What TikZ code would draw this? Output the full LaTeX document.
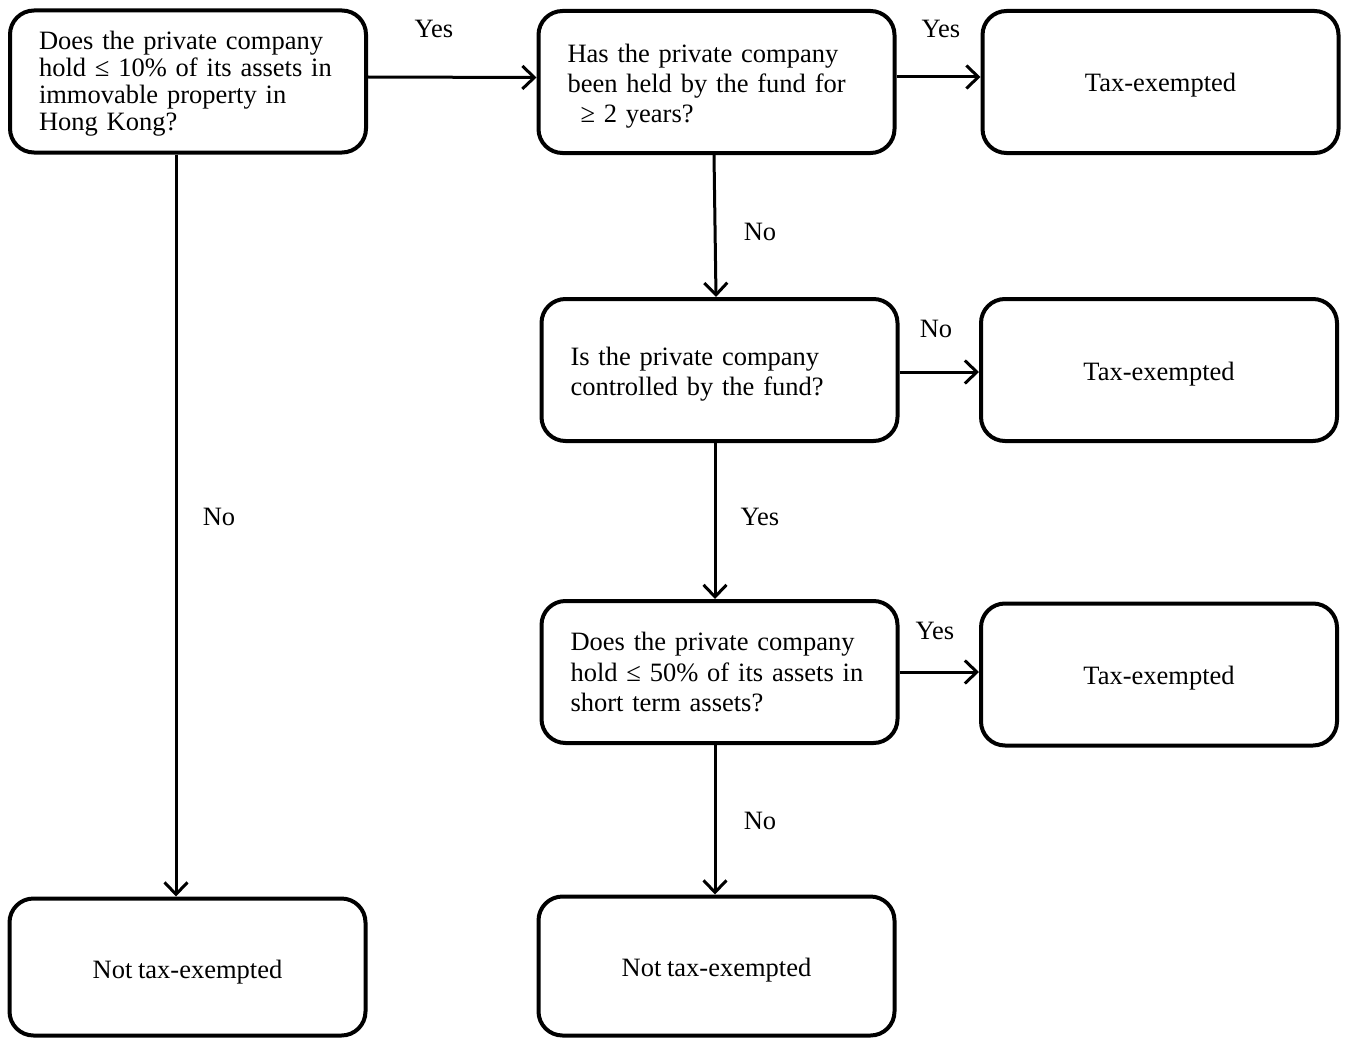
\documentclass[tikz,border=0pt]{standalone}
\usepackage{fontspec}
\setmainfont[WordSpace=0.85]{Liberation Serif}
\usetikzlibrary{arrows.meta}
\newcommand{\topstrut}[1]{\rule{0pt}{#1}}
\tikzset{
  box/.style={draw, line width=4pt, rounded corners=24pt, minimum width=356pt,
    minimum height=142pt, font=\fontsize{26.5pt}{27pt}\selectfont},
  qbox/.style={box, text width=298pt, inner xsep=29pt, align=left},
  rbox/.style={box, align=center, text height=25pt, text depth=5pt},
  conn/.style={line width=3pt, -{Straight Barb[length=12pt,width=23pt,line width=3pt]}},
  lbl/.style={font=\fontsize{26.5pt}{27pt}\selectfont, inner sep=0pt}
}
\begin{document}
\begin{tikzpicture}[x=1pt,y=-1pt]
\useasboundingbox (0,0) rectangle (1346,1038);
\node[qbox] (A) at (188,81.5) {\topstrut{22.5pt}Does the private company\\hold ≤ 10\% of its assets in\\immovable property in\\Hong Kong?};
\node[qbox, font=\fontsize{26.5pt}{30pt}\selectfont] (B) at (716.5,82) {\topstrut{26pt}Has the private company\\been held by the fund for\\\hspace*{13pt}≥ 2 years?};
\node[rbox] (C) at (1160.5,82) {Tax-exempted};
\node[qbox, font=\fontsize{26.5pt}{30pt}\selectfont] (D) at (719.5,370) {\topstrut{26.5pt}Is the private company\\controlled by the fund?};
\node[rbox] (E) at (1159,370) {Tax-exempted};
\node[qbox, font=\fontsize{26.5pt}{30.5pt}\selectfont] (F) at (719.5,672) {Does the private company\\hold ≤ 50\% of its assets in\\short term assets?};
\node[rbox] (G) at (1159,674.5) {Tax-exempted};
\node[rbox, minimum height=137pt, text height=27pt] (H) at (187.5,967) {Not tax-exempted};
\node[rbox, minimum height=139pt, text height=26pt] (I) at (716.5,966) {Not tax-exempted};

\draw[conn] ([yshift=4.5pt]A.east) -- ([yshift=4.5pt]B.west);
\draw[conn] ([yshift=5pt]B.east) -- ([yshift=5pt]C.west);
\draw[conn] ([xshift=-2.5pt]B.south) -- ([xshift=-3.5pt]D.north);
\draw[conn] ([yshift=-2pt]D.east) -- ([yshift=-2pt]E.west);
\draw[conn] ([xshift=-4.5pt]D.south) -- ([xshift=-4.5pt]F.north);
\draw[conn] (F.east) -- ([yshift=2.5pt]G.west);
\draw[conn] ([xshift=-4.5pt]F.south) -- ([xshift=-1.5pt]I.north);
\draw[conn] ([xshift=-12pt]A.south) -- ([xshift=-11.5pt]H.north);

\node[lbl] (l1) at (434,29) {Yes};
\node[lbl] (l2) at (941,29) {Yes};
\node[lbl] (l3) at (760,232) {No};
\node[lbl] (l4) at (936,329) {No};
\node[lbl] (l5) at (760,517) {Yes};
\node[lbl] (l6) at (935,631) {Yes};
\node[lbl] (l7) at (760,821) {No};
\node[lbl] (l8) at (219,517) {No};
\end{tikzpicture}
\end{document}
